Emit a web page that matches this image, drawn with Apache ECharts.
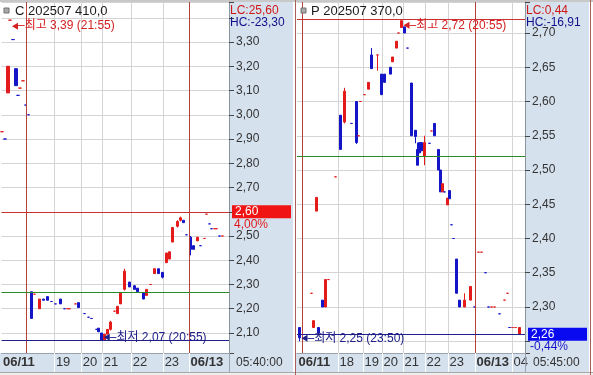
<!DOCTYPE html>
<html><head><meta charset="utf-8">
<script src="https://cdn.jsdelivr.net/npm/echarts@6/dist/echarts.min.js"></script>
<style>html,body{margin:0;padding:0;background:#fff}#c{width:593px;height:375px}</style>
</head><body><div id="c"></div>
<script>
// ---------- DATA ----------
const SLOT_COUNT = 228;            // time buckets per panel
// Call option: [slot, open, close, (low), (high)]  (single value = flat trade)
const callCandles = [
 [0,2.93],[3,2.90],[6,3.09,3.20],[8,3.39],[11,3.31],[14,3.19,3.12],[16,3.08],[18,3.11],[21,3.14],[24,3.04],[27,3.00],
 [30,2.27,2.16],[33,2.26],[38,2.20,2.24],[42,2.24,2.235],[46,2.25,2.235],[50,2.23],[54,2.22],[59,2.24,2.22],
 [63,2.20],[66,2.20],[68,2.20],[74,2.22],[77,2.225,2.205],[83,2.18],[87,2.165],[90,2.16],[95,2.115],[97,2.12,2.105],
 [100,2.10,2.07],[103,2.07,2.095],[106,2.095,2.115],[109,2.115,2.145,2.11,2.15],[113,2.19],[116,2.18,2.21],
 [119,2.22,2.265],[123,2.28,2.355,2.275,2.365],[128,2.31,2.29],[133,2.295,2.28],[136,2.285,2.27],[142,2.265,2.24],
 [145,2.255,2.28],[149,2.30],[153,2.345,2.365],[157,2.365,2.345],[161,2.35,2.33,2.325,2.35],[165,2.39,2.43],
 [168,2.405,2.435],[171,2.475,2.535],[176,2.54,2.56,2.535,2.565],[179,2.565,2.575,2.56,2.58],[182,2.565,2.555],
 [185,2.505],[189,2.495,2.445,2.42,2.50],[192,2.46,2.445],[196,2.48,2.495],[199,2.46],[203,2.49],[205,2.59],
 [208,2.55],[210,2.53],[213,2.53],[215,2.53],[218,2.50],[221,2.50]
];
// Put option
const putCandles = [
 [2,2.27,2.255,2.25,2.27],[14,2.32],[16,2.27,2.28],[19,2.44,2.46],[21,2.27,2.262],[25,2.31,2.30],[28,2.30,2.34],
 [31,2.34],[38,2.49],[43,2.58,2.53],[47,2.57,2.615,2.568,2.62],[54,2.568],[59,2.60,2.54,2.538,2.60],[61,2.55],
 [63,2.60],[67,2.61],[71,2.618,2.628],[74,2.668,2.648,2.648,2.678],[80,2.668,2.668,2.645,2.668],[84,2.64,2.61],
 [87,2.64,2.628],[93,2.65,2.64],[95,2.658,2.665],[99,2.678,2.688],[101,2.70],[104,2.708,2.718,2.708,2.72],
 [107,2.709,2.70],[110,2.678],[114,2.627,2.55],[118,2.558,2.549,2.539,2.558],[120,2.53,2.507,2.507,2.54],
 [122,2.54,2.525],[124,2.54,2.528],[127,2.52,2.54,2.507,2.55],[132,2.539],[134,2.557],[137,2.568,2.55],
 [141,2.53,2.50],[143,2.50,2.468],[145,2.468,2.48],[147,2.468],[150,2.449,2.459],[152,2.47,2.458],[154,2.42],
 [156,2.40],[159,2.37,2.32],[162,2.31,2.30],[167,2.30,2.31,2.30,2.32],[173,2.31,2.33],[177,2.30],[181,2.38],
 [184,2.38],[188,2.35],[191,2.30],[194,2.30],[197,2.30],[202,2.29],[207,2.31],[210,2.32],[212,2.27],[215,2.27],
 [218,2.27],[222,2.26,2.27]
];
// Time axis labels: [slot, text]
const callTimeLabels = [[1,'06/11'],[54,'19'],[81,'20'],[102,'21'],[131,'22'],[163,'23'],[189,'06/13']];
const putTimeLabels  = [[1,'06/11'],[42,'18'],[67,'19'],[86,'20'],[107,'21'],[129,'22'],[152,'23'],[179,'06/13'],[216,'04']];
const callHourSlots = [53,80,101,130,162,188];
const putHourSlots  = [41,66,85,106,128,151,178,215];
const callDaySlots = [24,188];
const putDaySlots  = [5,178];
// Reference levels
const callLast = 2.60, callPct = '4,00%', callRef = 2.27, callLowLine = 2.07;
const putLast = 2.26,  putPct = '-0,44%', putRef = 2.52, putHighLine = 2.717;
const callHigh = [8, 3.39, '21:55'], callLow = [100, 2.07, '20:55'];
const putHigh  = [104, 2.72, '20:55'], putLow = [2, 2.25, '23:50'];
const callRange = [2.0175, 3.465], putRange = [2.2328, 2.7453];
const callTitle = 'C 202507 410,0', putTitle = 'P 202507 370,0';
const callLCHC = ['LC:25,60','HC:-23,30'], putLCHC = ['LC:0,44','HC:-16,91'];
const callClock = '05:40:00', putClock = '05:45:00';

// ---------- BUILD ----------
const FONT = "'Liberation Sans', 'Noto Sans CJK KR', sans-serif";
const UP = '#e31b1b', DOWN = '#1515c8', DAY = '#b5403c', GRID = '#d4d4d4', PANEL = '#d6e1ee';
const GREEN = '#2a8a2a', NAVY = '#20208a', REDLINE = '#c83232';
const fmt = v => v.toFixed(2).replace('.', ',');
const rows = list => list.map(d => {
  const o = d[1], c = d.length > 2 ? d[2] : d[1];
  const l = d.length > 3 ? d[3] : Math.min(o, c), h = d.length > 4 ? d[4] : Math.max(o, c);
  return [d[0], o, c, l, h];
});
const slotNames = Array.from({length: SLOT_COUNT}, (_, i) => String(i));
const ARROW = 'path://M0,5L10,0L10,10Z';

function xAxisFor(gi, hours, labels) {
  const lm = new Map(labels);
  return {
    type: 'category', gridIndex: gi, data: slotNames, boundaryGap: true,
    axisLine: {show: true, lineStyle: {color: '#9aa3ad', width: 1}},
    axisTick: {show: true, interval: i => hours.includes(i), length: 19, lineStyle: {color: '#ffffff'}},
    splitLine: {show: true, interval: i => hours.includes(i), lineStyle: {color: GRID}},
    axisLabel: {show: true, interval: i => lm.has(i), align: 'left', margin: 3, color: '#333', fontSize: 13, fontFamily: FONT,
      formatter: v => { const t = lm.get(Number(v)) || ''; return t.indexOf('/') >= 0 ? '{d|' + t + '}' : t; },
      rich: {d: {fontWeight: 'bold', fontSize: 13, color: '#333', fontFamily: FONT}}}
  };
}
function yAxisFor(gi, range, step, hide) {
  return {
    type: 'value', gridIndex: gi, position: 'right', min: range[0], max: range[1],
    splitNumber: Math.round((range[1] - range[0]) / step), minInterval: step, maxInterval: step,
    axisLine: {show: true, lineStyle: {color: '#8a949e'}},
    axisTick: {show: true, length: 5, lineStyle: {color: '#444'}},
    splitLine: {show: true, lineStyle: {color: GRID}},
    axisLabel: {margin: 7, color: '#333', fontSize: 12, fontFamily: FONT,
      formatter: v => { const k = Math.round(v / step); if (Math.abs(v / step - k) > 1e-6) return '';
        if (hide.some(h => Math.abs(h - v) < 1e-6)) return ''; return fmt(v); }}
  };
}
function priceLabel(val, pct, boxColor, pctColor) {
  return {show: true, position: 'end', distance: 3,
    formatter: '{s| }\n{b|' + fmt(val) + '}\n{p|' + pct + '}',
    rich: {s: {height: 12, lineHeight: 12, fontSize: 12},
      b: {backgroundColor: boxColor, color: '#fff', width: 56, height: 13, lineHeight: 13, padding: [0, 0, 0, 3], fontSize: 12, fontFamily: FONT},
      p: {color: pctColor, height: 12, lineHeight: 12, fontSize: 12, fontFamily: FONT, padding: [0, 0, 0, 2]}}};
}
function mark(pt, word, color, dy) {
  return {coord: [pt[0], pt[1]], symbol: ARROW, symbolSize: [6, 7], symbolOffset: [5, dy], itemStyle: {color: color},
    label: {show: true, position: 'right', distance: 0, color: color, fontSize: 12, fontFamily: FONT,
      formatter: '–' + word + ' ' + fmt(pt[1]) + ' (' + pt[2] + ')'}};
}
const sol = c => ({color: c, type: 'solid', width: 1});
function series(gi, list, days, hLines, marks) {
  return {
    type: 'candlestick', xAxisIndex: gi, yAxisIndex: gi, data: rows(list), encode: {x: 0, y: [1, 2, 3, 4]},
    barWidth: 2.6, itemStyle: {color: UP, color0: DOWN, borderColor: UP, borderColor0: DOWN, borderWidth: 1},
    markLine: {silent: true, symbol: ['none', 'none'], animation: false, label: {show: false},
      data: days.map(d => ({xAxis: d, lineStyle: sol(DAY)})).concat(hLines)},
    markPoint: {silent: true, animation: false, data: marks}
  };
}

const text = (x, y, t, fill, extra) => Object.assign({type: 'text', x: x, y: y, z: 10,
  style: {text: t, fill: fill, font: '12px ' + FONT, verticalAlign: 'middle'}}, extra || {});
const rect = (x, y, w, h, fill, z) => ({type: 'rect', shape: {x: x, y: y, width: w, height: h}, style: {fill: fill}, z: z == null ? -1 : z, silent: true});
const vline = (x, y1, y2, c) => ({type: 'line', shape: {x1: x, y1: y1, x2: x, y2: y2}, style: {stroke: c, lineWidth: 1}, z: 10, silent: true});

const option = {
  animation: false,
  textStyle: {fontFamily: FONT},
  grid: [{left: 1, top: 2, width: 228, height: 351}, {left: 297, top: 2, width: 228, height: 351}],
  xAxis: [xAxisFor(0, callHourSlots, callTimeLabels), xAxisFor(1, putHourSlots, putTimeLabels)],
  yAxis: [yAxisFor(0, callRange, 0.1, [2.6, 3.4]), yAxisFor(1, putRange, 0.05, [2.25])],
  series: [
    series(0, callCandles, callDaySlots, [
      {yAxis: callRef, lineStyle: sol(GREEN)},
      {yAxis: callLowLine, lineStyle: sol(NAVY)},
      {yAxis: callLast, lineStyle: sol(REDLINE), label: priceLabel(callLast, callPct, '#f01414', '#e01a1a')}
    ], [mark(callHigh, '최고', '#d42020', 6), mark(callLow, '최저', NAVY, -3)]),
    series(1, putCandles, putDaySlots, [
      {yAxis: putHighLine, lineStyle: sol(REDLINE)},
      {yAxis: putRef, lineStyle: sol(GREEN)},
      {yAxis: putLast, lineStyle: sol(NAVY), label: priceLabel(putLast, putPct, '#0a0af0', '#1515c8')}
    ], [mark(putHigh, '최고', '#d42020', 6), mark(putLow, '최저', NAVY, -3)])
  ],
  graphic: {elements: [
    rect(0, 0, 593, 2, '#c8c8c8'),
    rect(229, 2, 64, 370, PANEL),
    rect(0, 353, 229, 19, PANEL),
    rect(525, 2, 64, 370, PANEL),
    rect(296, 353, 229, 19, PANEL),
    rect(0, 372, 593, 3, '#eeeeee'),
    {type: 'line', shape: {x1: 0, y1: 372.5, x2: 593, y2: 372.5}, style: {stroke: '#a8a8a8', lineWidth: 1}, z: 10, silent: true},
    vline(229.5, 353, 372, '#9aa3ad'), vline(525.5, 353, 372, '#9aa3ad'),
    vline(295.5, 0, 375, '#a8605a'), vline(590.5, 0, 375, '#a8605a'),
    {type: 'rect', shape: {x: 4, y: 8, width: 5, height: 5}, style: {fill: '#a8a8a8', stroke: '#707070', lineWidth: 1}, z: 10, silent: true},
    {type: 'rect', shape: {x: 301, y: 8, width: 5, height: 5}, style: {fill: '#a8a8a8', stroke: '#707070', lineWidth: 1}, z: 10, silent: true},
    text(15, 11.5, callTitle, '#1a1a1a', {style: {text: callTitle, fill: '#1a1a1a', font: '13px ' + FONT, verticalAlign: 'middle'}}),
    text(311, 11.5, putTitle, '#1a1a1a', {style: {text: putTitle, fill: '#1a1a1a', font: '13px ' + FONT, verticalAlign: 'middle'}}),
    text(230, 10.5, callLCHC[0], '#d01818'), text(230, 22.5, callLCHC[1], '#10108c'),
    text(526, 10.5, putLCHC[0], '#d01818'), text(526, 22.5, putLCHC[1], '#10108c'),
    text(236, 362.5, callClock, '#333'), text(533, 362.5, putClock, '#333')
  ]}
};
const chart = echarts.init(document.getElementById('c'), null, {renderer: 'canvas'});
chart.setOption(option);
</script></body></html>
